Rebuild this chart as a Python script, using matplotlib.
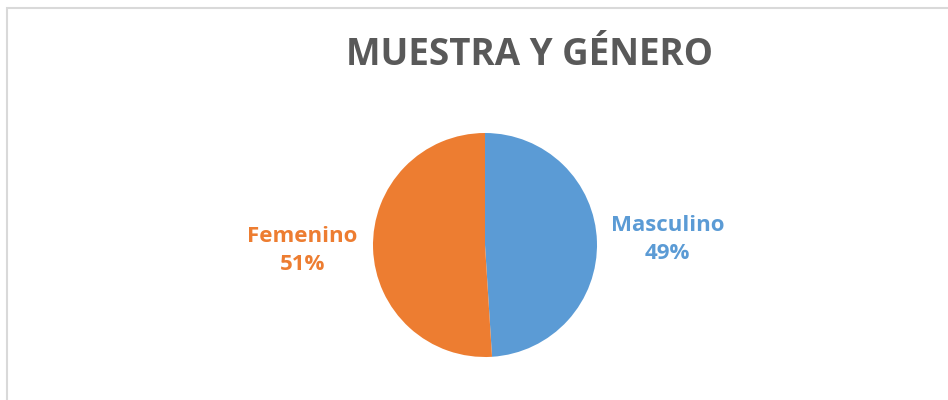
import matplotlib.pyplot as plt
from matplotlib.patches import Rectangle

# data
categorias = ['Masculino', 'Femenino']
porcentajes = [49, 51]
colores = ['#5B9BD5', '#ED7D31']
titulo = 'MUESTRA Y GÉNERO'

plt.rcParams['font.family'] = ['Open Sans', 'DejaVu Sans']

fig = plt.figure(figsize=(9.48, 4.0), dpi=100)

# chart area border (only top and left visible in the crop)
fig.patches.append(Rectangle((7 / 948, -0.1), 1.2, 1.1 - 8 / 400,
                             transform=fig.transFigure, fill=False,
                             edgecolor='#D9D9D9', linewidth=1.5))

# pie axes: center (485, 245) px, radius 112 px
r = 112
ax = fig.add_axes([(485 - r) / 948, (400 - 245 - r) / 400, 2 * r / 948, 2 * r / 400])
wedges, texts = ax.pie(porcentajes, colors=colores, startangle=90, counterclock=False,
                       labels=[f'{c}\n{p}%' for c, p in zip(categorias, porcentajes)],
                       labeldistance=1.63)
for t, c in zip(texts, colores):
    t.set_color(c)
    t.set_fontweight('bold')
    t.set_fontsize(16)
    t.set_ha('center')
    t.set_va('center')
    t.set_linespacing(1.45)
ax.set_xlim(-1, 1)
ax.set_ylim(-1, 1)

fig.text(530 / 948, 1 - 55 / 400, titulo, ha='center', va='center',
         fontsize=26.5, fontweight='bold', color='#595959')

fig.savefig('out.png', dpi=100)
